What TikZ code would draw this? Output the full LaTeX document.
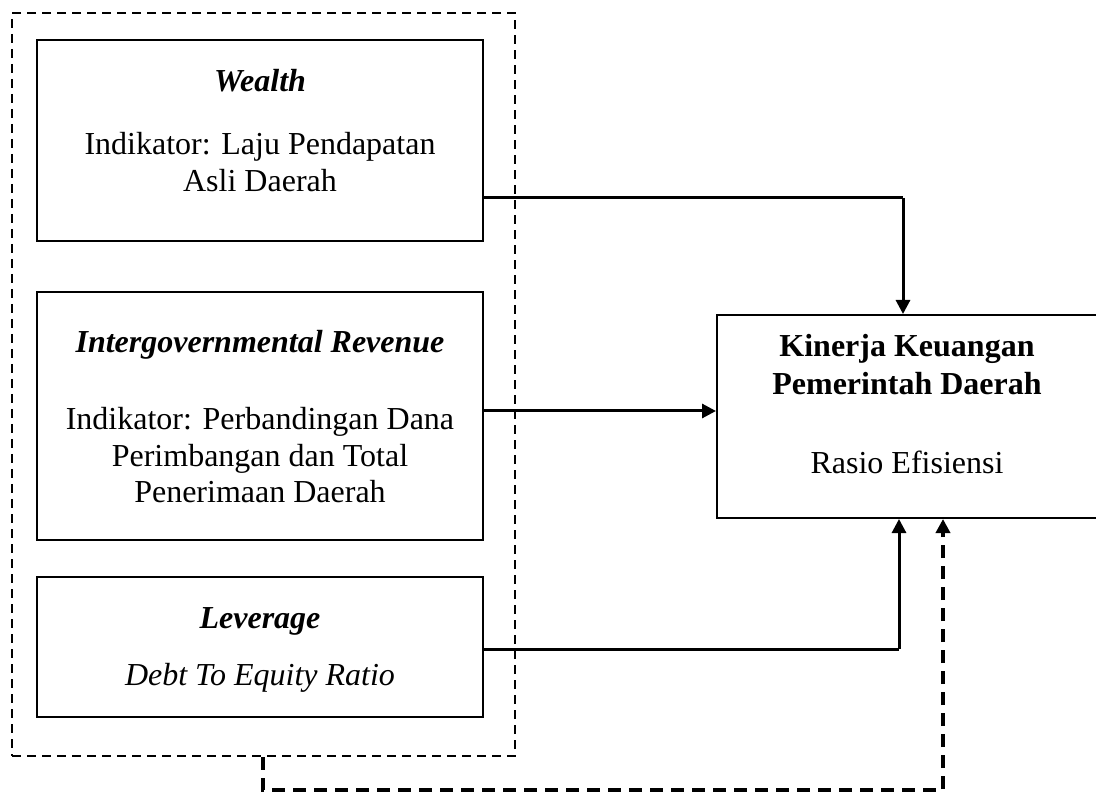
\documentclass[tikz,border=0pt]{standalone}
\usepackage{fontspec}
\setmainfont{Liberation Serif}
\usetikzlibrary{arrows.meta,calc}
\begin{document}
\begin{tikzpicture}[x=1pt,y=-1pt,
  box/.style={draw,line width=2pt,inner sep=0pt,anchor=center},
  grpbox/.style={draw,line width=2pt,dash pattern=on 9pt off 6pt,inner sep=0pt},
  txt/.style={anchor=base,inner sep=0pt,font=\fontsize{32}{37}\selectfont},
  conn/.style={line width=3pt},
  arr/.style={line width=3pt,-{Triangle[length=14pt,width=14pt]}},
  darr/.style={line width=3.5pt,dash pattern=on 13pt off 8pt,-{Triangle[length=14pt,width=14pt]}}]
\clip (0,0) rectangle (1096,794);
\fill[white] (0,0) rectangle (1096,794);
% outer dashed group
\node[grpbox,minimum width=503pt,minimum height=743pt] (grp) at (263.5,384.5) {};
% boxes
\node[box,minimum width=446pt,minimum height=201pt] (wealth) at (260,140.5) {};
\node[box,minimum width=446pt,minimum height=248pt] (inter) at (260,416) {};
\node[box,minimum width=446pt,minimum height=140pt] (lev) at (260,647) {};
\node[box,minimum width=380pt,minimum height=203pt] (kin) at (907,416.5) {};
% texts
\node[txt] (t1) at (260,92) {\textbf{\textit{Wealth}}};
\node[txt] (t2) at (260,155) {Indikator: Laju Pendapatan};
\node[txt] (t3) at (260,192) {Asli Daerah};
\node[txt] (t4) at (260,353) {\textbf{\textit{Intergovernmental Revenue}}};
\node[txt] (t5) at (260,430) {Indikator: Perbandingan Dana};
\node[txt] (t6) at (260,467) {Perimbangan dan Total};
\node[txt] (t7) at (260,502) {Penerimaan Daerah};
\node[txt] (t8) at (260,628) {\textbf{\textit{Leverage}}};
\node[txt] (t9) at (260,685) {\textit{Debt To Equity Ratio}};
\node[txt] (t10) at (907,357) {\textbf{Kinerja Keuangan}};
\node[txt] (t11) at (907,395) {\textbf{Pemerintah Daerah}};
\node[txt] (t12) at (907,473) {Rasio Efisiensi};
% connectors
\coordinate (c1) at (903,198);
\draw[conn] ([yshift=-57.5pt]wealth.east) -- (c1);
\draw[arr] (c1) -- (kin.north -| c1);
\draw[arr] ([yshift=5pt]inter.east) -- ([yshift=5pt]inter.east -| kin.west);
\coordinate (c2) at (899,649);
\draw[conn] ([yshift=-2pt]lev.east) -- (c2);
\draw[arr] (c2) -- (kin.south -| c2);
\coordinate (d1) at (263,790);
\coordinate (d2) at (943,790);
\draw[darr] (grp.south -| d1) -- (d1) -- (d2) -- (kin.south -| d2);
\end{tikzpicture}
\end{document}
